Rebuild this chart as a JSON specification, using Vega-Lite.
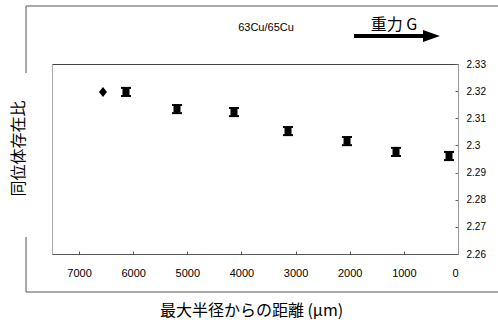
{
  "$schema": "https://vega.github.io/schema/vega-lite/v6.json",
  "width": 406,
  "height": 190,
  "autosize": "none",
  "padding": {"left": 52, "top": 64, "right": 40, "bottom": 80},
  "background": "white",
  "config": {
    "view": {"stroke": "#444", "strokeWidth": 1},
    "font": "Liberation Sans",
    "axisX": {
      "orient": "bottom",
      "grid": false,
      "labelFont": "Liberation Sans",
      "labelFontSize": 11,
      "labelColor": "#000",
      "labelPadding": 16,
      "ticks": true,
      "tickSize": -3,
      "tickColor": "#555",
      "domainColor": "#555",
      "titleFont": "Noto Sans CJK JP",
      "titleFontSize": 16,
      "titleFontWeight": "normal",
      "titleColor": "#000",
      "titleX": 199,
      "titleY": 56,
      "titleAlign": "center",
      "titleBaseline": "middle"
    }
  },
  "data": {
    "values": [
      {"d": 6558, "r": 2.3197, "kind": "diamond"},
      {"d": 6133, "r": 2.3197, "lo": 2.3182, "hi": 2.3212, "kind": "square"},
      {"d": 5191, "r": 2.3134, "lo": 2.3119, "hi": 2.3149, "kind": "square"},
      {"d": 4138, "r": 2.3123, "lo": 2.3108, "hi": 2.3138, "kind": "square"},
      {"d": 3140, "r": 2.3053, "lo": 2.3038, "hi": 2.3068, "kind": "square"},
      {"d": 2050, "r": 2.3016, "lo": 2.3001, "hi": 2.3031, "kind": "square"},
      {"d": 1145, "r": 2.2976, "lo": 2.2961, "hi": 2.2991, "kind": "square"},
      {"d": 166, "r": 2.2961, "lo": 2.2946, "hi": 2.2976, "kind": "square"}
    ]
  },
  "layer": [
    {
      "transform": [{"filter": "datum.kind === 'square'"}],
      "mark": {"type": "rule", "color": "#000", "strokeWidth": 2},
      "encoding": {
        "x": {
          "field": "d", "type": "quantitative",
          "scale": {"domain": [0, 7500], "reverse": true, "nice": false, "zero": false},
          "axis": {
            "values": [0, 1000, 2000, 3000, 4000, 5000, 6000, 7000],
            "format": "d",
            "title": "最大半径からの距離 (μm)"
          }
        },
        "y": {
          "field": "lo", "type": "quantitative",
          "scale": {"domain": [2.26, 2.33], "nice": false, "zero": false},
          "axis": {
            "orient": "right",
            "values": [2.26, 2.27, 2.28, 2.29, 2.3, 2.31, 2.32, 2.33],
            "format": "~g",
            "grid": false,
            "labelFont": "Liberation Sans",
            "labelFontSize": 10,
            "labelColor": "#000",
            "labelPadding": 11,
            "ticks": true,
            "tickSize": -3,
            "tickColor": "#666",
            "domainColor": "#999",
            "title": null
          }
        },
        "y2": {"field": "hi"}
      }
    },
    {
      "data": {"values": [{}]},
      "mark": {"type": "rule", "color": "#555", "strokeWidth": 1},
      "encoding": {
        "x": {"datum": 7980, "type": "quantitative"},
        "x2": {"datum": -800},
        "y": {"datum": 2.35137, "type": "quantitative", "axis": null}
      }
    },
    {
      "data": {"values": [{}]},
      "mark": {"type": "rule", "color": "#555", "strokeWidth": 1},
      "encoding": {
        "x": {"datum": 7980, "type": "quantitative"},
        "x2": {"datum": -800},
        "y": {"datum": 2.246, "type": "quantitative", "axis": null}
      }
    },
    {
      "data": {"values": [{}]},
      "mark": {"type": "rule", "color": "#555", "strokeWidth": 1},
      "encoding": {
        "x": {"datum": 7980, "type": "quantitative"},
        "y": {"datum": 2.35137, "type": "quantitative", "axis": null},
        "y2": {"datum": 2.32668}
      }
    },
    {
      "data": {"values": [{}]},
      "mark": {"type": "rule", "color": "#555", "strokeWidth": 1},
      "encoding": {
        "x": {"datum": 7980, "type": "quantitative"},
        "y": {"datum": 2.26626, "type": "quantitative", "axis": null},
        "y2": {"datum": 2.246}
      }
    },
    {
      "data": {"values": [{}]},
      "mark": {"type": "text", "text": "63Cu/65Cu", "font": "Liberation Sans", "fontSize": 11, "color": "#000", "align": "center", "baseline": "middle"},
      "encoding": {
        "x": {"datum": 3547, "type": "quantitative"},
        "y": {"datum": 2.34326, "type": "quantitative", "axis": null}
      }
    },
    {
      "data": {"values": [{}]},
      "mark": {"type": "text", "text": "重力 G", "font": "Noto Sans CJK JP", "fontSize": 16, "color": "#000", "align": "center", "baseline": "middle"},
      "encoding": {
        "x": {"datum": 1182, "type": "quantitative"},
        "y": {"datum": 2.34437, "type": "quantitative", "axis": null}
      }
    },
    {
      "data": {"values": [{}]},
      "mark": {"type": "rule", "color": "#000", "strokeWidth": 4},
      "encoding": {
        "x": {"datum": 1921, "type": "quantitative"},
        "x2": {"datum": 646},
        "y": {"datum": 2.34032, "type": "quantitative", "axis": null}
      }
    },
    {
      "data": {"values": [{}]},
      "mark": {"type": "point", "shape": "M-1,-0.7L1,0L-1,0.7Z", "filled": true, "size": 289, "color": "#000", "opacity": 1},
      "encoding": {
        "x": {"datum": 490, "type": "quantitative"},
        "y": {"datum": 2.34032, "type": "quantitative", "axis": null}
      }
    },
    {
      "transform": [{"filter": "datum.kind === 'square'"}],
      "mark": {"type": "tick", "orient": "horizontal", "size": 10, "thickness": 2, "color": "#000", "opacity": 1},
      "encoding": {
        "x": {"field": "d", "type": "quantitative"},
        "y": {"field": "lo", "type": "quantitative", "axis": null}
      }
    },
    {
      "transform": [{"filter": "datum.kind === 'square'"}],
      "mark": {"type": "tick", "orient": "horizontal", "size": 10, "thickness": 2, "color": "#000", "opacity": 1},
      "encoding": {
        "x": {"field": "d", "type": "quantitative"},
        "y": {"field": "hi", "type": "quantitative", "axis": null}
      }
    },
    {
      "transform": [{"filter": "datum.kind === 'square'"}],
      "mark": {"type": "point", "shape": "square", "filled": true, "size": 49, "color": "#000", "opacity": 1},
      "encoding": {
        "x": {"field": "d", "type": "quantitative"},
        "y": {
          "field": "r", "type": "quantitative",
          "axis": {
            "orient": "left",
            "labels": false,
            "ticks": false,
            "grid": false,
            "domain": true,
            "domainColor": "#aaa",
            "title": "同位体存在比",
            "titleFont": "Noto Sans CJK JP",
            "titleFontSize": 16,
            "titleFontWeight": "normal",
            "titleColor": "#000",
            "titleAngle": -90,
            "titleX": -34,
            "titleY": 84,
            "titleAlign": "center",
            "titleBaseline": "middle"
          }
        }
      }
    },
    {
      "transform": [{"filter": "datum.kind === 'diamond'"}],
      "mark": {"type": "point", "shape": "M0,-1L0.8,0L0,1L-0.8,0Z", "filled": true, "size": 100, "color": "#000", "opacity": 1},
      "encoding": {
        "x": {"field": "d", "type": "quantitative"},
        "y": {"field": "r", "type": "quantitative", "axis": null}
      }
    }
  ],
  "resolve": {"axis": {"y": "independent"}}
}
